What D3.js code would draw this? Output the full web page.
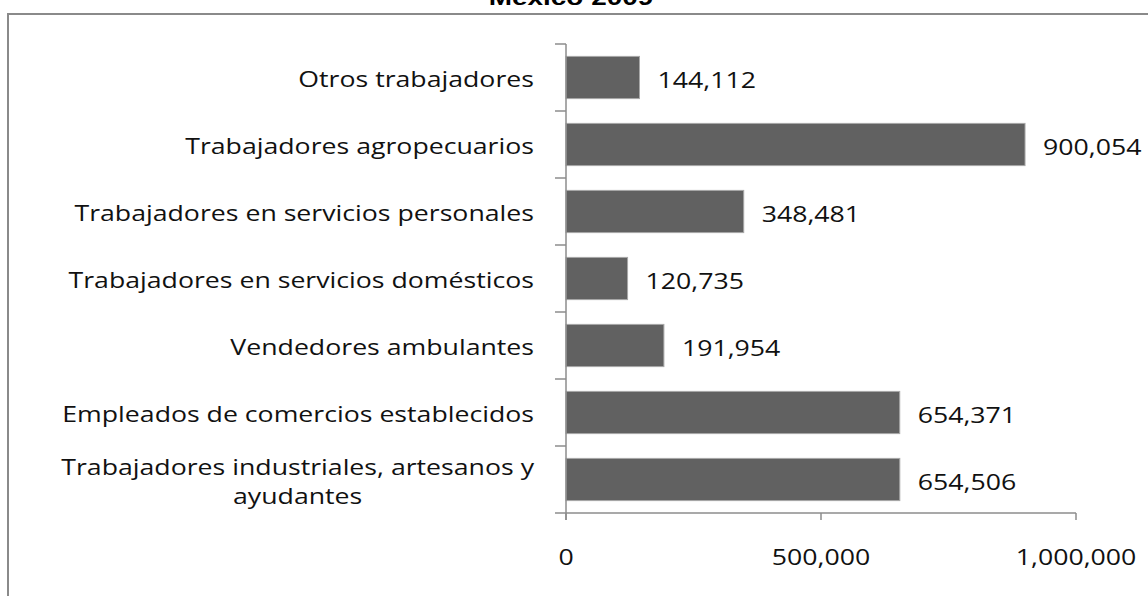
<!DOCTYPE html>
<html>
<head>
<meta charset="utf-8">
<script src="https://cdn.jsdelivr.net/npm/d3@7"></script>
<style>
  body { margin: 0; background: #fff; }
  svg { display: block; }
</style>
</head>
<body>
<script>
// categories top to bottom, with their values
var categories = ["Otros trabajadores",
                  "Trabajadores agropecuarios",
                  "Trabajadores en servicios personales",
                  "Trabajadores en servicios domésticos",
                  "Vendedores ambulantes",
                  "Empleados de comercios establecidos",
                  "Trabajadores industriales, artesanos y|ayudantes"];
var values = [144112, 900054, 348481, 120735, 191954, 654371, 654506];
var xTicks = [0, 500000, 1000000];
var title = "México 2009";

var width = 1148, height = 596,
    stretch = 1.27, // text in the picture is drawn wider than normal
    fmt = d3.format(",d");

var svg = d3.select("body").append("svg")
    .attr("width", width)
    .attr("height", height);

// chart frame (runs off the right and bottom edge)
svg.append("rect")
    .attr("x", 8).attr("y", 14)
    .attr("width", 1160).attr("height", 620)
    .attr("fill", "none")
    .attr("stroke", "#8a8a8a")
    .attr("stroke-width", 2);

svg.append("text")
    .attr("transform", "translate(571,5) scale(" + stretch + ",1)")
    .attr("text-anchor", "middle")
    .style("font-family", "'Liberation Sans', Arial, sans-serif")
    .style("font-weight", "bold")
    .style("font-size", "22px")
    .text(title);

var x = d3.scaleLinear().domain([0, 1000000]).range([566, 1076]);
var y = d3.scaleBand().domain(categories).range([44, 513])
    .paddingInner(0.37).paddingOuter(0.185);

var data = categories.map(function(c, i) { return {cat: c, value: values[i]}; });

var axisColor = "#8c8c8c";
var font = "'Open Sans', 'Noto Sans', sans-serif";

// bars
svg.selectAll(".bar")
    .data(data)
    .enter().append("rect")
    .attr("class", "bar")
    .attr("x", x(0))
    .attr("y", function(d) { return y(d.cat); })
    .attr("width", function(d) { return x(d.value) - x(0); })
    .attr("height", y.bandwidth())
    .attr("fill", "#616161")
    .attr("stroke", "#a8a8a8")
    .attr("stroke-width", 1);

// y axis line + ticks at band boundaries
var yBounds = d3.range(categories.length + 1).map(function(i) { return 44 + i * y.step(); });
svg.append("line")
    .attr("x1", x(0)).attr("x2", x(0))
    .attr("y1", 44).attr("y2", 520)
    .attr("stroke", axisColor).attr("stroke-width", 1.5);
svg.selectAll(".ytick")
    .data(yBounds)
    .enter().append("line")
    .attr("x1", x(0) - 11).attr("x2", x(0))
    .attr("y1", function(d) { return d; }).attr("y2", function(d) { return d; })
    .attr("stroke", axisColor).attr("stroke-width", 1.5);

// x axis
svg.append("line")
    .attr("x1", x(0)).attr("x2", x(1000000))
    .attr("y1", 513).attr("y2", 513)
    .attr("stroke", axisColor).attr("stroke-width", 1.5);
svg.selectAll(".xtick")
    .data(xTicks)
    .enter().append("line")
    .attr("x1", function(d) { return x(d); }).attr("x2", function(d) { return x(d); })
    .attr("y1", 513).attr("y2", 520)
    .attr("stroke", axisColor).attr("stroke-width", 1.5);
svg.selectAll(".xlabel")
    .data(xTicks)
    .enter().append("text")
    .attr("transform", function(d) { return "translate(" + x(d) + ",557) scale(" + stretch + ",1)"; })
    .attr("text-anchor", "middle")
    .attr("dy", "0.36em")
    .style("font-family", font)
    .style("font-size", "21px")
    .attr("fill", "#111")
    .text(function(d) { return fmt(d); });

// value labels
svg.selectAll(".val")
    .data(data)
    .enter().append("text")
    .attr("transform", function(d) {
      return "translate(" + (x(d.value) + 18) + "," + (y(d.cat) + y.bandwidth() / 2 + 3) + ") scale(" + stretch + ",1)";
    })
    .attr("dy", "0.36em")
    .style("font-family", font)
    .style("font-size", "21px")
    .attr("fill", "#111")
    .text(function(d) { return fmt(d.value); });

// category labels, multi-line ones centred under the first line
var labelRight = 534, lineH = 29;
data.forEach(function(d) {
  var lines = d.cat.split("|");
  var cy = y(d.cat) + y.bandwidth() / 2 + 2 - (lines.length - 1) * lineH / 2;
  var first = svg.append("text")
      .attr("transform", "translate(" + labelRight + "," + cy + ") scale(" + stretch + ",1)")
      .attr("text-anchor", "end")
      .attr("dy", "0.36em")
      .style("font-family", font)
      .style("font-size", "21px")
      .attr("fill", "#111")
      .text(lines[0]);
  if (lines.length > 1) {
    var w = first.node().getComputedTextLength() * stretch;
    for (var i = 1; i < lines.length; i++) {
      svg.append("text")
          .attr("transform", "translate(" + (labelRight - w / 2) + "," + (cy + i * lineH) + ") scale(" + stretch + ",1)")
          .attr("text-anchor", "middle")
          .attr("dy", "0.36em")
          .style("font-family", font)
          .style("font-size", "21px")
          .attr("fill", "#111")
          .text(lines[i]);
    }
  }
});
</script>
</body>
</html>
